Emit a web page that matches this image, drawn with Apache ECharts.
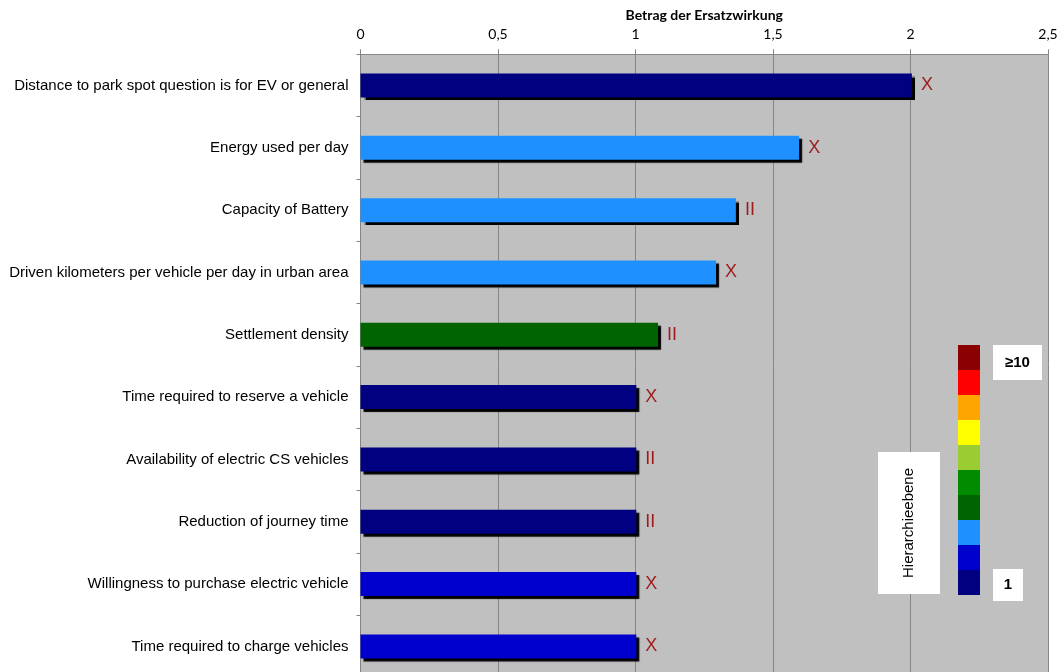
<!DOCTYPE html>
<html>
<head>
<meta charset="utf-8">
<script src="https://cdn.jsdelivr.net/npm/echarts@6/dist/echarts.min.js"></script>
<style>
  html, body { margin: 0; padding: 0; background: #fff; }
  #chart { width: 1061px; height: 672px; }
</style>
</head>
<body>
<div id="chart"></div>
<script>
// Factors, ordered top to bottom
const categories = [
  'Distance to park spot question is for EV or general',
  'Energy used per day',
  'Capacity of Battery',
  'Driven kilometers per vehicle per day in urban area',
  'Settlement density',
  'Time required to reserve a vehicle',
  'Availability of electric CS vehicles',
  'Reduction of journey time',
  'Willingness to purchase electric vehicle',
  'Time required to charge vehicles'
];
// Betrag der Ersatzwirkung
const values = [2.005, 1.595, 1.365, 1.293, 1.082, 1.003, 1.003, 1.003, 1.003, 1.003];
// Hierarchieebene of each factor (1 = top level)
const levels = [1, 3, 3, 3, 4, 1, 1, 1, 2, 2];
// Marker text beside each bar
const markers = ['X', 'X', 'II', 'X', 'II', 'X', 'II', 'II', 'X', 'X'];
// Colour scale for Hierarchieebene 1 .. >=10
const levelColors = ['#000080', '#0000CD', '#1E90FF', '#006400', '#008B00',
                     '#9ACD32', '#FFFF00', '#FFA500', '#FF0000', '#8B0000'];
const axisTicks = [0, 0.5, 1, 1.5, 2, 2.5];

const chart = echarts.init(document.getElementById('chart'), null, { renderer: 'canvas' });

const sans = '"Liberation Sans", Arial, sans-serif';
const narrow = 'Lato, "Open Sans", sans-serif';

// Legend swatches, stacked from level 1 at the bottom to >=10 at the top
const swatchX = 958, swatchTop = 345, swatchH = 25, swatchW = 22;
const legendGraphics = levelColors.map((c, i) => ({
  type: 'rect',
  shape: { x: swatchX, y: swatchTop + (levelColors.length - 1 - i) * swatchH, width: swatchW, height: swatchH },
  style: { fill: c },
  z: 100
}));

legendGraphics.push(
  { type: 'rect', shape: { x: 993, y: 345, width: 49, height: 35 }, style: { fill: '#fff' }, z: 100 },
  { type: 'text', x: 1017.5, y: 362.5, style: { text: '≥10', font: 'bold 15px ' + sans, fill: '#000', align: 'center', verticalAlign: 'middle' }, z: 101 },
  { type: 'rect', shape: { x: 993, y: 569, width: 30, height: 32 }, style: { fill: '#fff' }, z: 100 },
  { type: 'text', x: 1008, y: 585, style: { text: '1', font: 'bold 15px ' + sans, fill: '#000', align: 'center', verticalAlign: 'middle' }, z: 101 },
  { type: 'rect', shape: { x: 878, y: 452, width: 62, height: 142 }, style: { fill: '#fff' }, z: 100 },
  { type: 'text', x: 909, y: 523, rotation: Math.PI / 2, style: { text: 'Hierarchieebene', font: '15px ' + sans, fill: '#000', align: 'center', verticalAlign: 'middle' }, z: 101 }
);

const option = {
  backgroundColor: '#ffffff',
  animation: false,
  grid: {
    // the last row runs slightly past the bottom edge of the canvas
    left: 360.5, width: 687.5, top: 54.3, height: 623.3,
    outerBoundsMode: 'none',
    show: true, backgroundColor: '#C0C0C0', borderWidth: 0
  },
  xAxis: {
    type: 'value',
    position: 'top',
    min: 0, max: 2.5, interval: 0.5,
    name: 'Betrag der Ersatzwirkung',
    nameLocation: 'middle',
    nameGap: 31,
    nameTextStyle: { fontFamily: narrow, fontWeight: 'bold', fontSize: 14, color: '#000' },
    axisLine: { show: true, lineStyle: { color: '#868686', width: 1 } },
    axisTick: { show: true, inside: false, length: 5, lineStyle: { color: '#868686' } },
    axisLabel: {
      margin: 13,
      fontFamily: narrow, fontSize: 14, color: '#000',
      formatter: v => {
        const t = axisTicks.find(a => Math.abs(a - v) < 1e-9);
        return String(t !== undefined ? t : v).replace('.', ',');
      }
    },
    splitLine: { show: true, lineStyle: { color: '#868686', width: 1 } }
  },
  yAxis: {
    type: 'category',
    data: categories,
    inverse: true,
    axisLine: { show: true, lineStyle: { color: '#868686', width: 1 } },
    axisTick: { show: true, length: 4, lineStyle: { color: '#868686' } },
    axisLabel: {
      margin: 12,
      padding: [3, 0, 0, 0],
      fontFamily: sans, fontSize: 15, color: '#000'
    },
    splitLine: { show: false }
  },
  series: [{
    type: 'bar',
    barWidth: 24,
    data: values.map((v, i) => ({
      value: v,
      itemStyle: { color: levelColors[levels[i] - 1] },
      label: { formatter: markers[i] }
    })),
    itemStyle: {
      shadowColor: '#000',
      shadowOffsetX: 3,
      shadowOffsetY: 3,
      shadowBlur: 1
    },
    label: {
      show: true,
      position: 'right',
      distance: 9,
      padding: [3, 0, 0, 0],
      fontFamily: sans,
      fontSize: 18,
      color: '#9E1B1B'
    }
  }],
  graphic: legendGraphics
};

chart.setOption(option);
</script>
</body>
</html>
